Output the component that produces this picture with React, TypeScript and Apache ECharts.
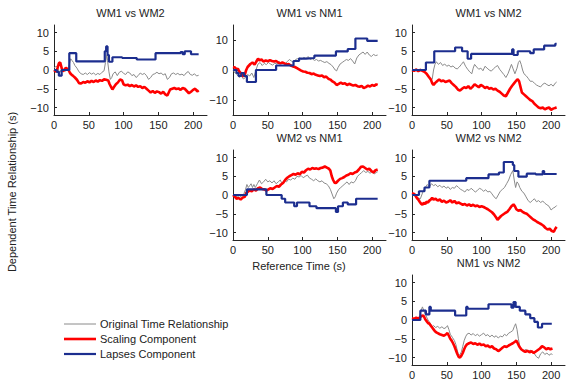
import React, { useEffect, useRef } from "react";
import * as echarts from "echarts";

// ---------- data ----------
const X_TICKS = [0, 50, 100, 150, 200];
const Y_TICKS = [-10, -5, 0, 5, 10];
const Y_TICKS_WIDE = [-10, 0, 10];
const TITLES = ["WM1 vs WM2", "WM1 vs NM1", "WM1 vs NM2", "WM2 vs NM1", "WM2 vs NM2", "NM1 vs NM2"];
const LEGEND_LABELS = ["Original Time Relationship", "Scaling Component", "Lapses Component"];
const X_LABEL = "Reference Time (s)";
const Y_LABEL = "Dependent Time Relationship (s)";

// WM1 vs WM2
const gray1 = [[0,0.5],[3,1],[5,0.8],[7,-0.3],[9,-0.5],[11,0.3],[14,0],[17,-0.3],[20,0.2],[22,1.5],[24,3],[26,2.5],[28,2],[30,1.2],[33,0.5],[36,-0.5],[39,-1],[42,-1.2],[45,-0.8],[48,-1.2],[51,-0.7],[54,-1.1],[57,-0.8],[60,-1.3],[63,-0.9],[66,-1.2],[69,-0.6],[72,-0.2],[74,2],[76,4],[77,2.5],[79,-0.5],[81,-2.5],[83,-2],[85,-1],[88,-0.5],[91,-1.5],[94,-0.6],[97,-0.3],[100,-0.9],[103,-1.2],[106,-0.5],[109,-0.8],[112,-1.5],[115,-1.2],[118,-2],[121,-1.5],[124,-0.8],[127,-1.2],[130,-0.9],[133,-1.5],[136,-2.5],[139,-2],[142,-1.2],[145,-1],[148,-0.6],[151,-1],[154,-0.8],[157,-1.3],[160,-1],[163,-2.5],[166,-2],[169,-1],[172,-0.8],[175,-1.2],[178,-0.9],[181,-1.3],[184,-1.1],[187,-1.5],[190,-0.8],[193,-0.4],[196,-1.2],[199,-1.4],[202,-1],[205,-1.6],[208,-1.4]];
const red1 = [[0,0],[3,-0.5],[5,0.5],[7,1.8],[9,2],[11,0.5],[13,-0.3],[15,0],[17,0.6],[19,0.3],[21,0],[23,-0.8],[25,-1.2],[27,-1.5],[30,-2],[33,-2.6],[36,-3.5],[39,-3.6],[42,-3.2],[45,-3.4],[48,-3],[51,-3.3],[54,-2.9],[57,-3.2],[60,-2.8],[63,-3.1],[66,-2.7],[69,-2.9],[72,-2.5],[75,-2.6],[78,-2.8],[80,-3.8],[82,-4.5],[84,-5.2],[86,-4.6],[89,-3.8],[92,-3.3],[95,-2.5],[98,-2.8],[100,-3.8],[103,-4.1],[106,-3.9],[109,-4.3],[112,-4],[115,-4.4],[118,-4.1],[121,-4.5],[124,-4.3],[127,-4.8],[130,-4.5],[133,-5],[136,-5.5],[139,-6],[142,-5.6],[145,-6.1],[148,-5.7],[151,-5.9],[154,-6.3],[157,-5.8],[160,-6.5],[163,-6.8],[165,-6],[167,-5.2],[170,-5],[173,-4.8],[176,-5.1],[179,-4.9],[182,-5.3],[185,-4.8],[188,-5],[191,-5.6],[194,-6.2],[197,-5.8],[200,-5.3],[203,-5],[206,-5.7],[208,-5.4]];
const blue1 = [[0,0],[4,-0.5],[7,-1.5],[11,0],[22,4.5],[32,2.3],[73,5],[75,6.3],[77,4],[79,2.2],[84,3.4],[98,3.2],[119,2.8],[146,4.5],[182,4.8],[185,4.2],[188,5],[197,4.2],[208,4.2]];

// WM1 vs NM1
const gray2 = [[0,0],[3,-1],[6,-1.5],[9,-2.5],[12,-2],[15,-3],[18,-2.5],[21,-1.5],[24,-2],[27,-1],[30,-2.5],[33,0],[36,2],[39,2.5],[42,1.5],[45,2.2],[48,1.8],[51,2.5],[54,2],[57,1.6],[60,2.3],[63,2],[66,2.8],[69,2.2],[72,2.6],[75,2],[78,2.8],[81,3.5],[84,3],[87,2.5],[90,3.5],[93,3.8],[96,4],[99,3.6],[102,4.2],[105,3.8],[108,4.5],[111,3.5],[114,3.8],[117,3.2],[120,3.5],[123,3],[126,3.2],[129,2.8],[132,2.5],[135,2.8],[138,2.2],[141,1.8],[144,1],[147,0],[149,-0.3],[151,0.8],[154,2],[157,2.5],[160,3],[163,3.5],[166,3.2],[169,3.8],[172,3],[175,2],[178,4],[181,5],[184,5.5],[187,6],[190,5.2],[193,6],[196,5],[199,4.5],[202,5.2],[205,4.8],[208,5]];
const red2 = [[0,1],[3,0.8],[5,0],[7,0.5],[9,-0.5],[11,-1],[13,-1.5],[15,-2.2],[17,-1.5],[19,0],[21,1],[23,1.5],[25,2],[28,2.5],[31,1.8],[34,3],[36,3.8],[38,3.2],[41,3.5],[44,2.8],[47,3.2],[50,2.9],[53,3.3],[56,3],[59,2.8],[62,3],[65,2.5],[68,2.2],[71,2.5],[74,2.2],[77,1.8],[80,2],[83,1.5],[86,1.2],[89,1],[92,0.6],[95,0.2],[98,-0.2],[101,-0.5],[104,-0.6],[107,-0.9],[110,-1],[113,-1.4],[116,-1.2],[119,-1.6],[122,-1.8],[125,-2],[128,-1.8],[131,-2.4],[134,-2.2],[137,-2.9],[140,-3.2],[143,-3.8],[146,-4.2],[149,-5],[152,-4.6],[155,-4.2],[158,-4.6],[161,-4.4],[164,-5],[167,-4.6],[170,-4.9],[173,-5.2],[176,-5],[179,-5.4],[182,-5.6],[185,-5.3],[188,-6],[191,-5.7],[194,-5.2],[197,-5.5],[200,-5],[203,-5.3],[206,-4.8],[208,-5]];
const blue2 = [[0,0],[5,-1],[8,-2],[12,-1],[16,-2],[20,-4],[33,0],[62,1.5],[87,3],[95,3.8],[105,4],[117,4.8],[148,6.2],[165,7],[176,10.5],[193,9.7],[208,9.7]];

// WM1 vs NM2
const gray3 = [[0,0.2],[3,0],[6,0.3],[9,0],[12,0.2],[15,-0.2],[18,-0.5],[21,-1],[24,-1.5],[27,-2.8],[29,-2.5],[31,0],[33,1.5],[35,2.2],[38,1.5],[41,2],[44,1.2],[47,1.6],[50,1],[53,1.3],[56,0.8],[59,1.1],[62,0.5],[65,0.3],[68,0.8],[71,1.5],[74,2.2],[77,1],[80,0.2],[83,-0.5],[86,-1],[88,0.5],[90,1.5],[93,0.8],[96,0.2],[99,0.5],[102,-0.2],[105,1],[108,0.5],[111,0],[114,-0.3],[117,0.3],[120,0.8],[123,1.2],[126,0.2],[129,-0.5],[132,-1.2],[135,-2],[138,-1],[141,0.5],[143,1.5],[145,0.5],[148,-1],[151,0.5],[153,2],[155,2.5],[157,1.5],[159,0],[161,-1],[164,-1.5],[167,-2.2],[170,-3],[173,-3],[176,-3.5],[179,-4],[182,-4.3],[185,-4.5],[188,-3.8],[191,-3.5],[194,-3.9],[197,-4.2],[200,-3.8],[203,-4.3],[206,-3.5],[208,-3.2]];
const red3 = [[0,0],[3,-0.2],[6,0.1],[9,-0.3],[12,0],[15,-0.2],[18,-0.5],[21,-1],[24,-1.8],[27,-2.5],[29,-3.5],[31,-4],[33,-3.5],[36,-3],[39,-2.5],[42,-3],[45,-2.8],[48,-3.2],[51,-3],[54,-2.8],[57,-3.5],[60,-4],[63,-4.5],[66,-5.2],[69,-5.5],[72,-5],[75,-4.6],[78,-4.8],[81,-4.3],[84,-5],[87,-4.5],[90,-3.8],[93,-4.2],[96,-4.6],[99,-4],[102,-4.3],[105,-4.8],[108,-4.5],[111,-5],[114,-4.8],[117,-5.2],[120,-5],[123,-5.5],[126,-5.8],[129,-6.3],[132,-6.8],[135,-7],[138,-6],[141,-5],[144,-4.2],[147,-3.5],[150,-2.8],[152,-2.5],[154,-3],[156,-4.5],[158,-6],[161,-6.5],[164,-7],[167,-7.5],[170,-8],[173,-8.3],[176,-9],[179,-9.5],[182,-10],[185,-10.2],[188,-10],[191,-10.5],[194,-10.2],[197,-10],[200,-10.6],[203,-10.3],[206,-10.1],[208,-10]];
const blue3 = [[0,0],[20,2],[32,5],[62,6],[72,5],[80,3],[85,4.3],[144,5.5],[146,4],[152,5],[170,4.5],[175,5.5],[190,6.5],[206,7],[208,7]];

// WM2 vs NM1
const gray4 = [[0,0],[3,-0.3],[6,-0.5],[9,-0.2],[12,-0.6],[15,0],[18,1.5],[20,2.8],[22,2],[24,2.5],[26,3],[28,2],[30,2.8],[32,2],[35,3],[38,4],[41,3],[44,3.5],[47,4.2],[50,3.5],[53,3.8],[56,3.2],[59,3.8],[62,3],[65,3.5],[68,4],[71,2.8],[74,4],[77,3.5],[80,4.2],[83,4],[86,4.5],[89,4.2],[92,5],[95,4.8],[98,5.2],[101,4.6],[104,5],[107,5.3],[110,4.5],[113,4.2],[116,3.8],[119,4.3],[122,3.8],[125,3.5],[128,3.8],[131,3.2],[134,3],[137,2.5],[140,1.5],[143,0],[145,-1],[147,-0.5],[149,0.5],[152,1.5],[155,2],[158,2.5],[161,3],[164,3.5],[167,2.8],[170,3.5],[173,3.2],[176,3.8],[179,5],[182,5.5],[185,6],[188,6.5],[191,6],[194,6.3],[197,5.8],[200,6.2],[203,5.6],[206,6],[208,6.2]];
const red4 = [[0,0],[3,-0.5],[5,-1],[8,-0.8],[11,-1.2],[14,-0.7],[17,-0.5],[19,0.5],[21,0.8],[24,1.2],[27,1],[30,1.5],[33,1.2],[36,1.8],[39,2],[42,1.6],[45,1.5],[48,1.2],[51,1.5],[54,1.8],[57,1.6],[60,2],[63,2.4],[66,2.2],[69,2.8],[72,3.2],[75,4],[78,4.6],[81,5],[84,5.3],[87,5.6],[90,5.4],[93,5.8],[96,5.5],[99,6.2],[102,6],[105,6.6],[108,7],[111,6.8],[114,7.2],[117,7],[120,7.1],[123,6.9],[126,7.2],[129,7.3],[132,7.6],[135,7.3],[138,7],[140,6.5],[142,5],[144,4],[146,3.3],[148,3.2],[151,3.8],[154,4.3],[157,4.5],[160,4.8],[163,5.2],[166,5.4],[169,5.8],[172,5.6],[175,6],[178,6.2],[181,6.8],[184,7.5],[187,7.6],[190,7.2],[193,6.8],[196,7],[199,6.4],[202,6],[205,6.6],[208,6.8]];
const blue4 = [[0,0],[20,1.5],[48,0],[70,-1],[75,-2],[88,-3],[92,-2],[110,-3],[120,-3.5],[148,-4.5],[151,-3],[158,-2],[165,-2.5],[177,-1],[208,-1]];

// WM2 vs NM2
const gray5 = [[0,0.3],[3,0],[6,-0.3],[9,-0.8],[12,-1],[14,0],[16,1],[19,2],[22,2.8],[25,2.2],[28,3],[31,2.5],[34,2.8],[37,2.2],[40,2.6],[43,2],[46,2.4],[49,1.8],[52,2.2],[55,1.5],[58,2],[61,1.8],[64,2.5],[67,2],[70,1.5],[73,1.2],[76,0.8],[79,1.5],[82,1.2],[85,1.8],[88,1.3],[91,0.8],[94,1.2],[97,1.8],[100,1.5],[103,1],[106,1.4],[109,0.8],[112,1],[115,0.3],[118,-0.5],[121,-1],[124,0],[127,1],[130,1.5],[133,2],[136,3],[139,4],[142,5.5],[145,6.5],[147,4],[149,2],[151,3.5],[153,3],[155,2],[158,1],[161,0.5],[164,-0.5],[167,-1.5],[170,-2],[173,-1.5],[176,-1],[179,-1.8],[182,-1.5],[185,-2],[188,-1.6],[191,-2.2],[194,-2.6],[197,-3],[200,-4],[203,-3.5],[206,-3.2],[208,-2.8]];
const red5 = [[0,0.5],[3,0.3],[5,-0.2],[7,-0.8],[9,-1.2],[11,-1.8],[13,-2.3],[15,-2.6],[17,-2.1],[19,-2.4],[21,-1.8],[23,-2],[25,-1.5],[27,-1.2],[29,-0.8],[31,-1.2],[34,-1],[37,-1.5],[40,-1.2],[43,-1.8],[46,-1.5],[49,-2],[52,-1.8],[55,-1.4],[58,-2],[61,-1.6],[64,-2.2],[67,-2],[70,-2.3],[73,-2.6],[76,-2.4],[79,-2.8],[82,-2.5],[85,-2.9],[88,-2.6],[91,-3],[94,-2.8],[97,-3.2],[100,-3],[103,-3.2],[106,-3.5],[109,-3.8],[112,-4.2],[115,-4.6],[118,-5.2],[121,-6],[123,-6.6],[125,-6.2],[128,-5.6],[131,-5.2],[134,-4.8],[137,-4.5],[140,-3.8],[143,-3],[146,-2.5],[148,-3],[150,-3.8],[153,-4.2],[156,-4],[159,-4.5],[162,-4.8],[165,-5],[168,-5.5],[171,-6],[174,-6.5],[177,-6.8],[180,-7.2],[183,-7.5],[186,-7.8],[189,-8.2],[192,-8.8],[195,-9.2],[198,-9],[201,-9.6],[204,-9.8],[206,-9],[208,-8.5]];
const blue5 = [[0,0],[10,1],[18,2],[25,3.8],[78,4.5],[110,5.5],[125,6],[132,8.8],[145,8],[147,6.4],[153,4.9],[165,5.7],[178,5.5],[188,6.4],[190,5.6],[208,5.6]];

// NM1 vs NM2
const gray6 = [[0,0],[3,0.2],[6,0.5],[9,0.3],[11,1],[13,2.5],[15,3.5],[17,2.5],[19,1.5],[21,0.8],[23,0],[25,-0.5],[27,-1.2],[29,-1.8],[31,-1.5],[34,-2],[37,-1.7],[40,-2.2],[43,-1.8],[46,-2.3],[49,-2],[51,-1.5],[53,-2.5],[55,-3.8],[58,-4.6],[61,-5.5],[63,-6.5],[65,-8],[67,-9.5],[69,-9.2],[71,-8.5],[73,-7],[75,-5.5],[77,-4.5],[79,-3.8],[82,-3.5],[85,-4],[88,-3.6],[91,-4.2],[94,-3.8],[97,-4.3],[100,-3.9],[103,-3.5],[106,-4.2],[109,-3.9],[112,-4.5],[115,-4],[118,-4.6],[121,-4.2],[124,-4.8],[127,-4.3],[130,-4.5],[133,-3.8],[136,-4.2],[139,-3.5],[142,-3.2],[145,-2.8],[147,-1.8],[149,-1],[151,-2.5],[153,-5],[155,-7],[158,-7.8],[161,-8.2],[164,-7.8],[167,-8.5],[170,-8],[173,-8.6],[176,-9],[179,-9.8],[182,-10.2],[185,-9],[188,-8.5],[191,-9.2],[194,-8.8],[197,-9.4],[200,-9],[202,-9.2]];
const red6 = [[0,0.5],[3,0.3],[6,0.6],[9,0.4],[12,0.8],[15,1.2],[17,1],[19,0.2],[21,-0.3],[23,-0.8],[25,-1],[27,-1.5],[29,-2],[31,-2.5],[33,-3],[35,-3.3],[37,-3.5],[40,-3.8],[43,-4],[46,-4.2],[49,-3.8],[51,-3.5],[53,-4.2],[55,-5],[57,-5.5],[59,-6.2],[61,-7],[63,-8],[65,-9],[67,-9.8],[69,-10],[71,-9.5],[73,-8.8],[75,-7.8],[77,-7],[79,-6.5],[82,-6.2],[85,-6],[88,-6.4],[91,-6.2],[94,-6.6],[97,-6.3],[100,-6.7],[103,-6.5],[106,-7],[109,-6.8],[112,-7.3],[115,-7],[118,-7.6],[121,-7.8],[124,-8.3],[127,-7.9],[130,-7.4],[133,-7],[136,-7.2],[139,-6.8],[142,-6.5],[145,-6.2],[148,-5.8],[150,-5.5],[152,-6.2],[154,-7],[157,-7.8],[160,-8.2],[163,-8.5],[166,-8.2],[169,-8.6],[172,-8.3],[175,-8.8],[178,-8.4],[181,-8],[184,-7.6],[187,-7],[190,-7.3],[193,-7.8],[196,-7.5],[199,-7.8],[202,-7.6]];
const blue6 = [[0,0],[12,2.5],[20,1.5],[25,3.5],[27,2.5],[62,1.2],[78,3.5],[80,3],[110,4.2],[143,3.3],[146,4.8],[149,3.5],[155,2.5],[163,1.5],[170,0.5],[176,-0.5],[181,-2],[187,-1],[201,-1]];

const GRAYS = [gray1, gray2, gray3, gray4, gray5, gray6];
const REDS = [red1, red2, red3, red4, red5, red6];
const BLUES = [blue1, blue2, blue3, blue4, blue5, blue6];
const Y_LIMITS = [12, 15, 12, 12, 12, 12];
const Y_TICK_SETS = [Y_TICKS, Y_TICKS_WIDE, Y_TICKS, Y_TICKS, Y_TICKS, Y_TICKS];

// ---------- layout ----------
const LAYOUT = [
  { left: 54, top: 25 },
  { left: 233, top: 25 },
  { left: 412, top: 25 },
  { left: 233, top: 150 },
  { left: 412, top: 150 },
  { left: 412, top: 275 },
];
const PW = 153;
const PH = 90;
const FONT = "'Liberation Sans', Arial, Helvetica, sans-serif";
const TXT = "#222222";
const AX = "#262626";
const C_GRAY = "#8a8a8a";
const C_RED = "#ff0000";
const C_BLUE = "#1c2e8f";

export default function App() {
  const ref = useRef<HTMLDivElement>(null);
  useEffect(() => {
    document.body.style.margin = "0";
    if (!ref.current) return;
    const chart = echarts.init(ref.current, null, { renderer: "svg" });
    const grid: any[] = [];
    const xAxis: any[] = [];
    const yAxis: any[] = [];
    const series: any[] = [];
    const graphic: any[] = [];
    LAYOUT.forEach((L, i) => {
      grid.push({ left: L.left, top: L.top, width: PW, height: PH, containLabel: false });
      xAxis.push({
        type: "value", gridIndex: i, min: 0, max: 220,
        axisLine: { show: true, onZero: false, lineStyle: { color: AX, width: 1 } },
        axisTick: { show: true, inside: true, length: 3, customValues: X_TICKS, lineStyle: { color: AX } },
        axisLabel: { customValues: X_TICKS, color: TXT, fontSize: 11, fontFamily: FONT, margin: 4 },
        splitLine: { show: false },
      });
      const ym = Y_LIMITS[i];
      yAxis.push({
        type: "value", gridIndex: i, min: -ym, max: ym,
        axisLine: { show: true, onZero: false, lineStyle: { color: AX, width: 1 } },
        axisTick: { show: true, inside: true, length: 3, customValues: Y_TICK_SETS[i], lineStyle: { color: AX } },
        axisLabel: {
          customValues: Y_TICK_SETS[i], color: TXT, fontSize: 11, fontFamily: FONT, margin: 5,
          formatter: (v: number) => (v < 0 ? "\u2212" + Math.abs(v) : String(v)),
        },
        splitLine: { show: false },
      });
      series.push({
        type: "line", xAxisIndex: i, yAxisIndex: i, data: GRAYS[i], symbol: "none",
        lineStyle: { color: C_GRAY, width: 1 }, z: 2,
      });
      series.push({
        type: "line", xAxisIndex: i, yAxisIndex: i, data: REDS[i], symbol: "none",
        lineStyle: { color: C_RED, width: 2.6 }, z: 3,
      });
      series.push({
        type: "line", xAxisIndex: i, yAxisIndex: i, data: BLUES[i], symbol: "none", step: "end",
        lineStyle: { color: C_BLUE, width: 2.2 }, z: 4,
      });
      graphic.push({
        type: "text", x: L.left + PW / 2, y: L.top - 12,
        style: { text: TITLES[i], fill: TXT, font: `11px ${FONT}`, textAlign: "center", textVerticalAlign: "middle" },
      });
    });
    graphic.push({
      type: "text", x: 299, y: 266,
      style: { text: X_LABEL, fill: TXT, font: `11px ${FONT}`, textAlign: "center", textVerticalAlign: "middle" },
    });
    graphic.push({
      type: "text", x: 12, y: 192, rotation: Math.PI / 2,
      style: { text: Y_LABEL, fill: TXT, font: `11px ${FONT}`, textAlign: "center", textVerticalAlign: "middle" },
    });
    const legendColors = [C_GRAY, C_RED, C_BLUE];
    const legendWidths = [1, 2.6, 2.2];
    LEGEND_LABELS.forEach((lab, k) => {
      const y = 324 + k * 15;
      graphic.push({ type: "line", shape: { x1: 64, y1: y, x2: 96, y2: y }, style: { stroke: legendColors[k], lineWidth: legendWidths[k] } });
      graphic.push({
        type: "text", x: 100, y,
        style: { text: lab, fill: TXT, font: `11px ${FONT}`, textAlign: "left", textVerticalAlign: "middle" },
      });
    });
    chart.setOption({
      animation: false,
      backgroundColor: "#ffffff",
      grid, xAxis, yAxis, series, graphic,
    });
    return () => chart.dispose();
  }, []);
  return <div ref={ref} style={{ width: 572, height: 383 }} />;
}
